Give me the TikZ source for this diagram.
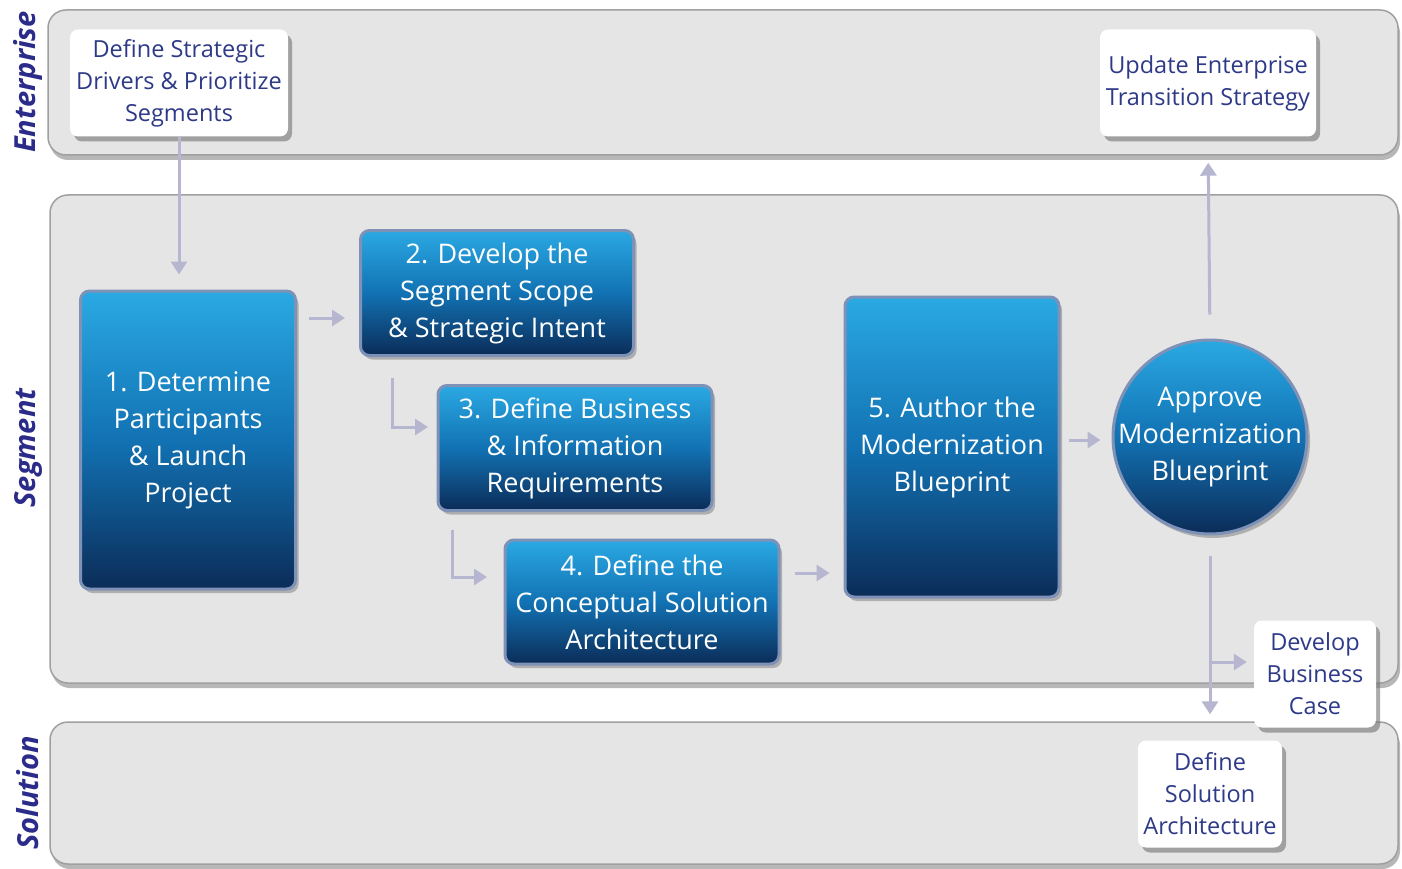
\documentclass[tikz,border=0pt]{standalone}
\usepackage{fontspec}
\setmainfont{Open Sans}
\usetikzlibrary{shadows,arrows.meta}
\definecolor{bandfill}{HTML}{E5E5E5}
\definecolor{banddraw}{HTML}{A0A0A0}
\definecolor{lane}{HTML}{2B2B8A}
\definecolor{arr}{HTML}{B6B6D0}
\definecolor{btop}{HTML}{2AA9E3}
\definecolor{bmid}{HTML}{1272B3}
\definecolor{bbot}{HTML}{0B2C58}
\definecolor{bedge}{HTML}{7E92B8}
\definecolor{wtext}{HTML}{2E3A88}
\begin{document}
\begin{tikzpicture}[x=1pt,y=-1pt,
  band/.style={draw=banddraw, line width=1.5pt, fill=bandfill, rounded corners=18pt,
    drop shadow={shadow xshift=2pt, shadow yshift=-5pt, fill=gray!80, opacity=.7}},
  lanelabel/.style={rotate=90, font=\fontsize{29}{30}\selectfont\bfseries\itshape, text=lane},
  wbox/.style={fill=white, rounded corners=8pt, align=center, text=wtext,
    font=\fontsize{23.5}{32}\selectfont, inner sep=0pt,
    drop shadow={shadow xshift=4pt, shadow yshift=-5pt, fill=black!55, opacity=.6}},
  bbox/.style={draw=bedge, line width=3pt, rounded corners=9pt, top color=btop, bottom color=bbot,
    middle color=bmid, align=center, text=white, font=\fontsize{27}{37}\selectfont, inner sep=0pt,
    drop shadow={shadow xshift=3pt, shadow yshift=-4pt, fill=black!45, opacity=.6}},
  circ/.style={circle, draw=bedge, line width=3pt, top color=btop, bottom color=bbot,
    middle color=bmid, align=center, text=white, font=\fontsize{27}{37}\selectfont, inner sep=-14pt,
    drop shadow={shadow xshift=3pt, shadow yshift=-4pt, fill=black!45, opacity=.6}},
  conn/.style={draw=arr, line width=3pt, -{Triangle[length=13pt,width=16pt]}}
]
\fill[white] (0,0) rectangle (1402,869);
\useasboundingbox (0,0) rectangle (1402,869);

% bands
\path[band] (48,10) rectangle (1398,155);
\path[band] (50,195) rectangle (1398,683);
\path[band] (50,722) rectangle (1398,864);

\node[lanelabel] (lE) at (28,82) {Enterprise};
\node[lanelabel] (lS) at (28,448) {Segment};
\node[lanelabel] (lL) at (28,793) {Solution};

% blue process boxes
\node[bbox, minimum width=215pt, minimum height=298pt] (s1) at (188,440)
  {1. Determine\\Participants\\\& Launch\\Project};
\node[bbox, minimum width=273pt, minimum height=125pt] (s2) at (497,293)
  {2. Develop the\\Segment Scope\\\& Strategic Intent};
\node[bbox, minimum width=274pt, minimum height=125pt] (s3) at (575,448)
  {3. Define Business\\\& Information\\Requirements};
\node[bbox, minimum width=274pt, minimum height=124pt] (s4) at (642,602)
  {4. Define the\\Conceptual Solution\\Architecture};
\node[bbox, minimum width=214pt, minimum height=300pt] (s5) at (952,447)
  {5. Author the\\Modernization\\Blueprint};
\node[circ, minimum size=194pt] (ap) at (1210,437)
  {Approve\\Modernization\\Blueprint};

% coordinates for connector bends
\coordinate (y12) at (0,318);
\coordinate (c2a) at (392,378);
\coordinate (c2b) at (428,427);
\coordinate (c3a) at (452,530);
\coordinate (c3b) at (487,577);
\coordinate (y45) at (0,573);
\coordinate (y5a) at (0,440);
\coordinate (br) at (1210,662);

% white boxes
\node[wbox, minimum width=218pt, minimum height=107pt] (d1) at (179,83)
  {Define Strategic\\Drivers \& Prioritize\\Segments};
\node[wbox, minimum width=216pt, minimum height=107pt] (up) at (1208,83)
  {Update Enterprise\\Transition Strategy};

% connectors
\draw[conn, shorten >=15pt] (d1.south) -- (d1.south |- s1.north);
\draw[conn, shorten <=12pt, shorten >=14pt] (s1.east |- y12) -- (s2.west |- y12);
\draw[conn] (c2a) |- (c2b);
\draw[conn] (c3a) |- (c3b);
\draw[conn, shorten <=14pt, shorten >=14pt] (s4.east |- y45) -- (s5.west |- y45);
\draw[conn, shorten <=8pt, shorten >=11pt] (s5.east |- y5a) -- (ap.west |- y5a);
\draw[conn, shorten <=24pt, shorten >=26pt] (ap.north) -- (up.south);

\node[wbox, minimum width=122pt, minimum height=107pt] (bc) at (1315,674)
  {Develop\\Business\\Case};
\node[wbox, minimum width=144pt, minimum height=107pt] (sa) at (1210,794)
  {Define\\Solution\\Architecture};

\draw[conn, shorten <=20pt, shorten >=26pt] (ap.south) -- (sa.north);
\draw[conn, shorten >=7pt] (br) -- (bc.west |- br);
\end{tikzpicture}
\end{document}
